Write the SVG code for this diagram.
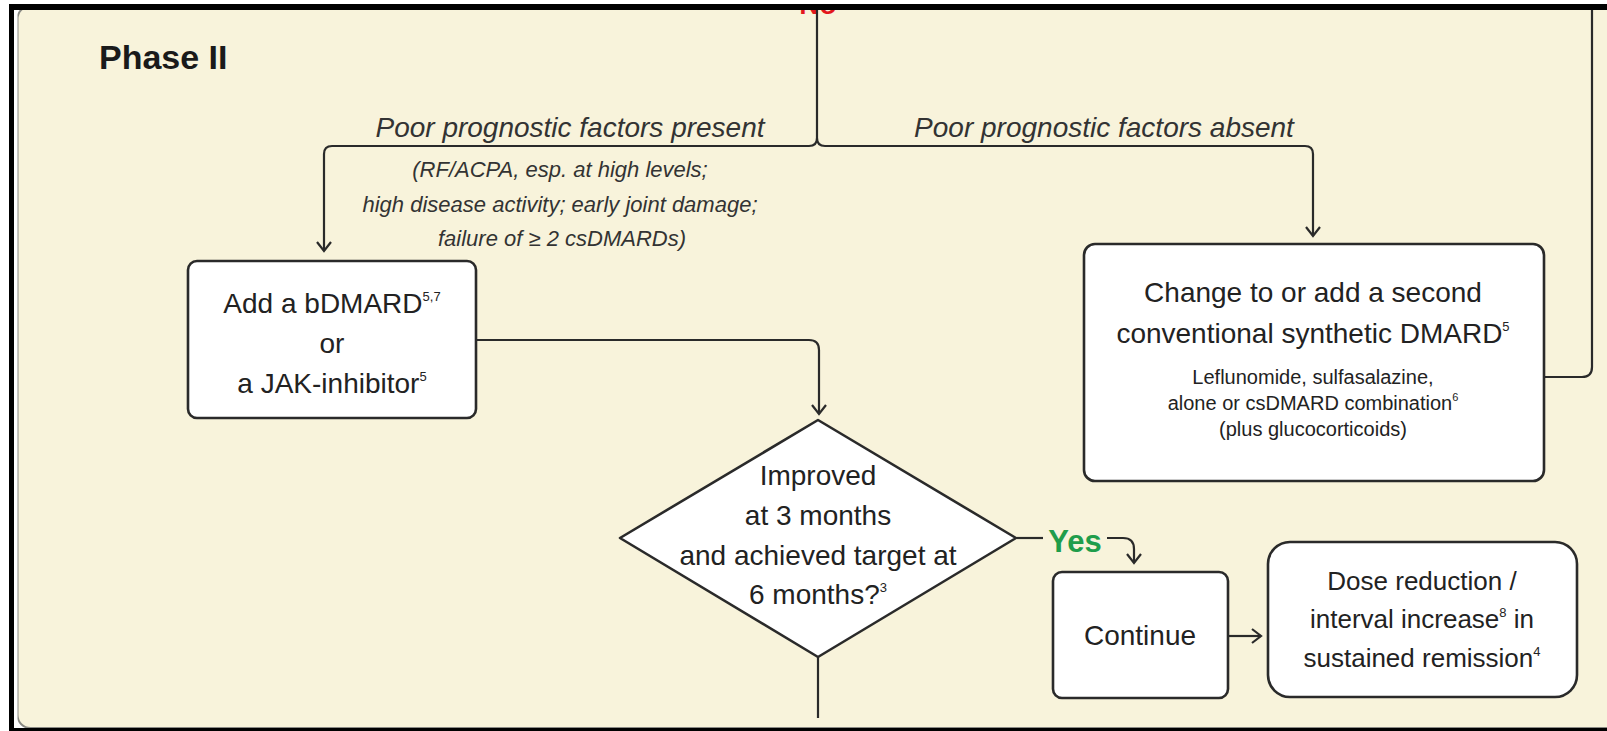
<svg xmlns="http://www.w3.org/2000/svg" width="1607" height="731" viewBox="0 0 1607 731">
<defs>
<marker id="arr" markerUnits="userSpaceOnUse" markerWidth="20" markerHeight="20" refX="11" refY="10" orient="auto" viewBox="0 0 20 20">
<path d="M2,3 L11,10 L2,17" fill="none" stroke="#2a2a2a" stroke-width="2.2"/>
</marker>
<style>
.box{fill:#fff;stroke:#2a2a2a;stroke-width:2.6}
.conn{fill:none;stroke:#2a2a2a;stroke-width:2.2}
.t{font-family:"Liberation Sans",Arial,sans-serif;fill:#222;text-anchor:middle}
.m{font-size:28px}
.d{font-size:26px}
.s{font-size:20px}
.lab{font-style:italic;font-size:28px;fill:#333}
.slab{font-style:italic;font-size:22px;fill:#333}
.sup{font-size:13px}
.sups{font-size:11px}
.no{font-family:"Liberation Sans",Arial,sans-serif;font-weight:bold;font-size:28px;fill:#e3161d}
</style>
</defs>
<rect x="0" y="0" width="1607" height="731" fill="#fff"/>
<rect id="panel" x="17.5" y="6" width="1640" height="722" rx="13" fill="#f8f3db" stroke="#8a8a84" stroke-width="2"/>
<text class="no" x="818" y="14" text-anchor="middle">No</text>
<text class="no" x="797" y="747">No</text>
<text x="99" y="69" font-family="Liberation Sans, Arial, sans-serif" font-weight="bold" font-size="34" fill="#1a1a1a">Phase II</text>

<g id="connectors">
<path class="conn" d="M817,10 V138 Q817,146 809,146 H332 Q324,146 324,154 V251" marker-end="url(#arr)"/>
<path class="conn" d="M817,138 Q817,146 825,146 H1305 Q1313,146 1313,154 V236" marker-end="url(#arr)"/>
<path class="conn" d="M476,340 H809 Q819,340 819,350 V414" marker-end="url(#arr)"/>
<path class="conn" d="M818,657 V718"/>
<path class="conn" d="M1016,538 H1043"/>
<path class="conn" d="M1107,538 H1123 Q1134,538 1134,549 V563" marker-end="url(#arr)"/>
<path class="conn" d="M1229,636 H1261" marker-end="url(#arr)"/>
<path class="conn" d="M1544,377 H1582 Q1592,377 1592,367 V8"/>
<text class="lab t" x="570" y="137">Poor prognostic factors present</text>
<text class="slab t" x="560" y="177">(RF/ACPA, esp. at high levels;</text>
<text class="slab t" x="560" y="212">high disease activity; early joint damage;</text>
<text class="slab t" x="562" y="246">failure of ≥ 2 csDMARDs)</text>
<text class="lab t" x="1104" y="137">Poor prognostic factors absent</text>
<text x="1075" y="552" text-anchor="middle" font-family="Liberation Sans, Arial, sans-serif" font-weight="bold" font-size="31" fill="#1f9d4b">Yes</text>
</g>

<g id="node-bdmard">
<rect class="box" x="188" y="261" width="288" height="157" rx="9"/>
<text class="t m" x="332" y="313">Add a bDMARD<tspan class="sup" dy="-12">5,7</tspan></text>
<text class="t m" x="332" y="353">or</text>
<text class="t m" x="332" y="393">a JAK-inhibitor<tspan class="sup" dy="-12">5</tspan></text>
</g>

<g id="node-csdmard">
<rect class="box" x="1084" y="244" width="460" height="237" rx="11"/>
<text class="t m" x="1313" y="302">Change to or add a second</text>
<text class="t m" x="1313" y="343">conventional synthetic DMARD<tspan class="sup" dy="-12">5</tspan></text>
<text class="t s" x="1313" y="384">Leflunomide, sulfasalazine,</text>
<text class="t s" x="1313" y="410">alone or csDMARD combination<tspan class="sups" dy="-9">6</tspan></text>
<text class="t s" x="1313" y="436">(plus glucocorticoids)</text>
</g>

<g id="node-decision">
<polygon class="box" points="818,420 1016,538 818,657 620,538" stroke-linejoin="round"/>
<text class="t m" x="818" y="485">Improved</text>
<text class="t m" x="818" y="525">at 3 months</text>
<text class="t m" x="818" y="565">and achieved target at</text>
<text class="t m" x="818" y="604">6 months?<tspan class="sup" dy="-12">3</tspan></text>
</g>

<g id="node-continue">
<rect class="box" x="1053" y="572" width="175" height="126" rx="9"/>
<text class="t m" x="1140" y="645">Continue</text>
</g>

<g id="node-dose">
<rect class="box" x="1268" y="542" width="309" height="155" rx="22"/>
<text class="t d" x="1422" y="590">Dose reduction /</text>
<text class="t d" x="1422" y="628">interval increase<tspan class="sup" dy="-11">8</tspan><tspan dy="11"> in</tspan></text>
<text class="t d" x="1422" y="667">sustained remission<tspan class="sup" dy="-11">4</tspan></text>
</g>

<g id="frame">
<rect x="0" y="0" width="1607" height="4" fill="#fff"/>
<rect x="0" y="0" width="9" height="731" fill="#fff"/>
<rect x="9" y="4" width="1598" height="6" fill="#000"/>
<rect x="9" y="4" width="5" height="727" fill="#000"/>
<rect x="14" y="10" width="3.5" height="721" fill="#fff"/>
<rect x="9" y="728" width="1598" height="3" fill="#000"/>
</g>
</svg>
